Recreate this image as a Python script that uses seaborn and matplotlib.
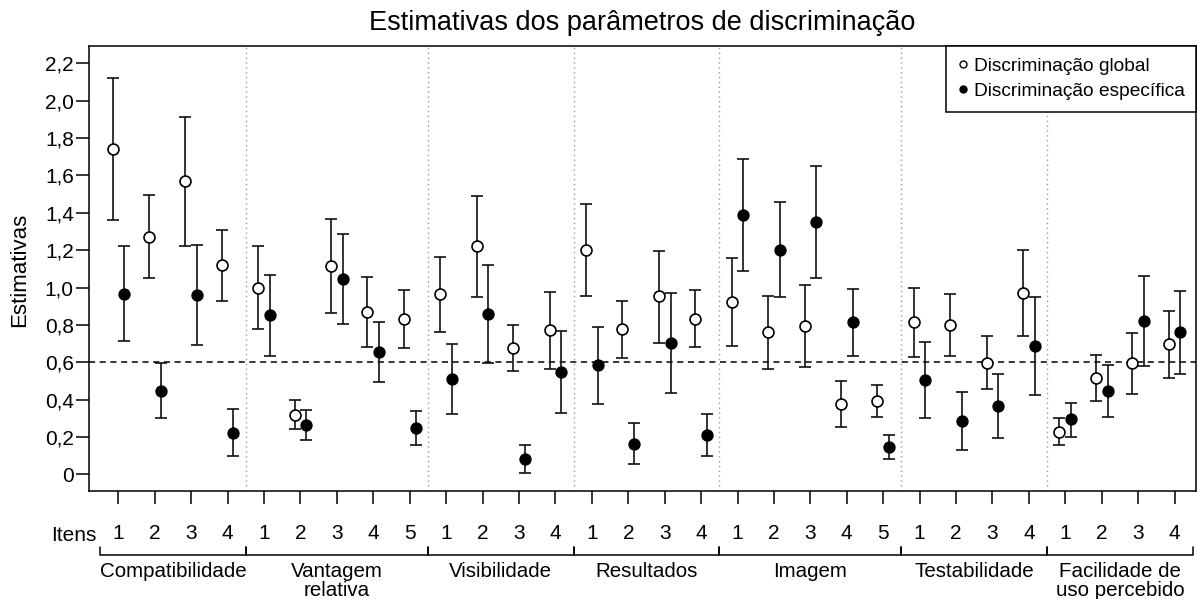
import numpy as np
import pandas as pd
import matplotlib
matplotlib.use("Agg")
import matplotlib.pyplot as plt
import matplotlib.transforms as mtransforms
from matplotlib.lines import Line2D
import seaborn as sns

# ---------------- data ----------------
groups = ["Compatibilidade", "Vantagem\nrelativa", "Visibilidade", "Resultados",
          "Imagem", "Testabilidade", "Facilidade de\nuso percebido"]
n_items = [4, 5, 4, 4, 5, 4, 4]

global_est = [1.74, 1.27, 1.57, 1.12, 1.00, 0.32, 1.115, 0.87, 0.83,
              0.965, 1.22, 0.675, 0.773, 1.20, 0.778, 0.953, 0.833,
              0.924, 0.762, 0.796, 0.377, 0.393, 0.814, 0.799, 0.598, 0.971,
              0.228, 0.516, 0.594, 0.696]
global_low = [1.36, 1.05, 1.22, 0.93, 0.778, 0.244, 0.862, 0.683, 0.675,
              0.762, 0.948, 0.553, 0.566, 0.955, 0.625, 0.705, 0.68,
              0.689, 0.566, 0.575, 0.255, 0.305, 0.628, 0.635, 0.459, 0.739,
              0.155, 0.394, 0.432, 0.514]
global_up = [2.12, 1.496, 1.915, 1.308, 1.223, 0.398, 1.367, 1.058, 0.987,
             1.165, 1.492, 0.798, 0.978, 1.447, 0.93, 1.197, 0.985,
             1.16, 0.956, 1.015, 0.498, 0.478, 0.998, 0.965, 0.739, 1.203,
             0.303, 0.637, 0.755, 0.876]
spec_est = [0.966, 0.446, 0.96, 0.219, 0.851, 0.264, 1.046, 0.657, 0.25,
            0.512, 0.858, 0.084, 0.55, 0.587, 0.162, 0.705, 0.211,
            1.39, 1.201, 1.353, 0.814, 0.148, 0.505, 0.287, 0.368, 0.689,
            0.294, 0.448, 0.821, 0.76]
spec_low = [0.712, 0.303, 0.692, 0.098, 0.635, 0.182, 0.803, 0.493, 0.157,
            0.323, 0.598, 0.009, 0.33, 0.378, 0.055, 0.437, 0.098,
            1.087, 0.949, 1.051, 0.633, 0.084, 0.303, 0.132, 0.196, 0.423,
            0.198, 0.309, 0.58, 0.537]
spec_up = [1.223, 0.594, 1.228, 0.348, 1.069, 0.344, 1.287, 0.814, 0.339,
           0.696, 1.119, 0.155, 0.767, 0.79, 0.277, 0.969, 0.323,
           1.69, 1.456, 1.651, 0.994, 0.211, 0.707, 0.439, 0.537, 0.949,
           0.384, 0.584, 1.062, 0.983]
threshold = 0.6
y_ticks = [0, 0.2, 0.4, 0.6, 0.8, 1.0, 1.2, 1.4, 1.6, 1.8, 2.0, 2.2]
y_tick_labels = ["0", "0,2", "0,4", "0,6", "0,8", "1,0", "1,2", "1,4",
                 "1,6", "1,8", "2,0", "2,2"]
title = "Estimativas dos parâmetros de discriminação"
ylabel = "Estimativas"
legend_labels = ["Discriminação global", "Discriminação específica"]

# ---------------- build table ----------------
item_labels = [str(k + 1) for n in n_items for k in range(n)]
n_total = sum(n_items)
pos = np.arange(n_total)
offset = 0.16
df = pd.DataFrame({
    "x": np.concatenate([pos - offset, pos + offset]),
    "est": global_est + spec_est,
    "low": global_low + spec_low,
    "up": global_up + spec_up,
    "tipo": [legend_labels[0]] * n_total + [legend_labels[1]] * n_total,
})

# ---------------- style ----------------
sns.set_style("ticks")
plt.rcParams["font.family"] = ["Liberation Sans", "DejaVu Sans"]
plt.rcParams["axes.linewidth"] = 1.1
plt.rcParams["text.color"] = "black"
plt.rcParams["axes.labelcolor"] = "black"

fig = plt.figure(figsize=(11.97, 5.99), dpi=100)
ax = fig.add_axes([0.0744, 0.1803, 0.9248, 0.7429])

# separators and threshold
bounds = np.cumsum(n_items)[:-1] - 0.5
for b in bounds:
    ax.axvline(b, color="#9a9a9a", linestyle=(0, (1, 2.5)), linewidth=1.0, zorder=1)
ax.axhline(threshold, color="black", linestyle=(0, (4, 3)), linewidth=1.1, zorder=1)

# error bars
yerr = np.vstack([df["est"] - df["low"], df["up"] - df["est"]])
ax.errorbar(df["x"], df["est"], yerr=yerr, fmt="none", ecolor="#111111",
            elinewidth=1.2, capsize=4.4, capthick=1.2, zorder=2)

# points
g = df[df["tipo"] == legend_labels[0]]
s = df[df["tipo"] == legend_labels[1]]
sns.scatterplot(data=g, x="x", y="est", ax=ax, marker="o", s=62,
                facecolor="white", edgecolor="black", linewidth=1.2, zorder=3,
                legend=False)
sns.scatterplot(data=s, x="x", y="est", ax=ax, marker="o", s=62,
                color="black", edgecolor="black", linewidth=1.0, zorder=3,
                legend=False)

# axes
ax.set_xlim(-0.805, n_total - 0.41)
ax.set_ylim(-0.089, 2.293)
ax.set_yticks(y_ticks)
ax.set_yticklabels(y_tick_labels)
ax.set_xticks(pos)
ax.set_xticklabels(item_labels)
ax.tick_params(axis="both", direction="out", length=9.5, width=1.1,
               colors="black", labelsize=15)
ax.tick_params(axis="y", pad=1.5)
ax.tick_params(axis="x", pad=14)
ax.set_xlabel("")
ax.set_ylabel("")
for sp in ax.spines.values():
    sp.set_visible(True)
    sp.set_color("black")

trans = mtransforms.blended_transform_factory(ax.transData, ax.transAxes)

# "Itens" label
ax.text(-0.6, -0.1, "Itens", transform=trans, ha="right", va="center",
        fontsize=15)

# group brackets and labels
y_line, y_tick = -0.1435, -0.1255
start = -0.5
for name, n in zip(groups, n_items):
    end = start + n
    ax.plot([start, start, end, end], [y_tick, y_line, y_line, y_tick],
            transform=trans, color="black", linewidth=1.1, clip_on=False)
    ax.text((start + end) / 2, -0.159, name, transform=trans, ha="center",
            va="top", fontsize=14.8, linespacing=1.0)
    start = end

# title / ylabel
fig.text(0.5368, 0.962, title, ha="center", va="center", fontsize=19.5)
fig.text(0.016, 0.55, ylabel, ha="center", va="center", rotation=90, fontsize=16)

# legend
handles = [
    Line2D([], [], marker="o", linestyle="none", markerfacecolor="white",
           markeredgecolor="black", markersize=5, markeredgewidth=1.0),
    Line2D([], [], marker="o", linestyle="none", markerfacecolor="black",
           markeredgecolor="black", markersize=5),
]
leg = ax.legend(handles, legend_labels, loc="upper right", bbox_to_anchor=(1.0, 1.0),
                borderaxespad=0.0, frameon=True, fancybox=False, framealpha=1,
                edgecolor="black", fontsize=13.8, handlelength=0.6,
                handletextpad=0.25, borderpad=0.6, labelspacing=0.4)
leg.get_frame().set_linewidth(1.1)

fig.savefig("out.png", dpi=100)
